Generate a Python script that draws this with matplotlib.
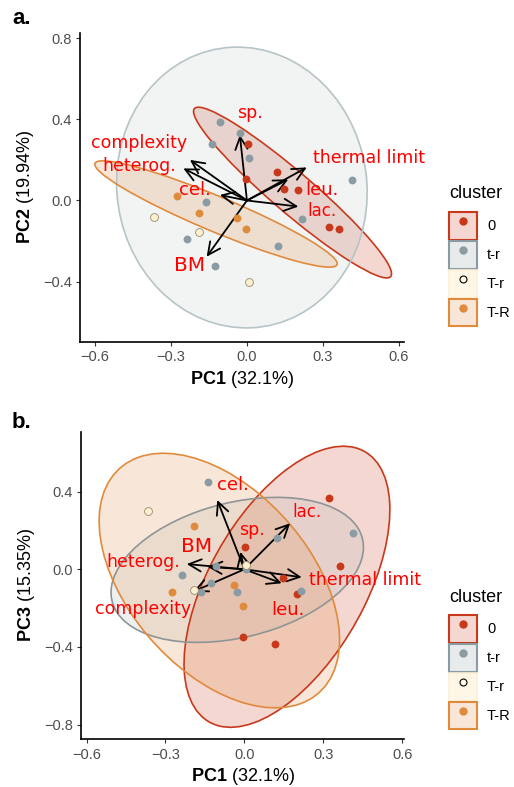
import numpy as np
import matplotlib
matplotlib.use("Agg")
import matplotlib.pyplot as plt
from matplotlib.patches import Ellipse, Patch
from matplotlib.lines import Line2D
from matplotlib.legend_handler import HandlerTuple

plt.rcParams['font.family'] = ['Liberation Sans', 'DejaVu Sans']
plt.rcParams['mathtext.fontset'] = 'custom'
plt.rcParams['mathtext.rm'] = 'Liberation Sans'
plt.rcParams['mathtext.bf'] = 'Liberation Sans:bold'

# individuals (scores)
cluster = ['0'] * 7 + ['t-r'] * 10 + ['T-r'] * 3 + ['T-R'] * 4
pc1 = [0.003, -0.004, 0.118, 0.146, 0.200, 0.322, 0.362,
       -0.107, -0.138, -0.029, 0.008, 0.217, 0.413, -0.163, -0.237, 0.124, -0.128,
       -0.368, -0.191, 0.007,
       -0.275, -0.191, -0.041, -0.005]
pc2 = [0.278, 0.107, 0.140, 0.057, 0.052, -0.129, -0.142,
       0.387, 0.278, 0.334, 0.209, -0.093, 0.101, -0.006, -0.188, -0.224, -0.324,
       -0.081, -0.154, -0.403,
       0.024, -0.062, -0.088, -0.142]
pc3 = [0.113, -0.349, -0.383, -0.045, -0.129, 0.366, 0.019,
       0.019, 0.450, -0.117, 0.000, -0.114, 0.187, -0.117, -0.031, 0.161, -0.071,
       0.300, -0.108, 0.022,
       -0.117, 0.225, -0.083, -0.189]

# variables (loadings arrows)
variables = ['sp.', 'thermal limit', 'leu.', 'lac.', 'complexity', 'heterog.', 'cel.', 'BM']
load_a_x = [-0.028, 0.236, 0.163, 0.203, -0.225, -0.251, -0.107, -0.159]
load_a_y = [0.323, 0.163, 0.104, -0.030, 0.200, 0.158, 0.027, -0.277]
load_b_x = [-0.015, 0.218, 0.142, 0.174, -0.194, -0.219, -0.103, -0.140]
load_b_y = [0.090, -0.041, -0.072, 0.237, -0.115, 0.027, 0.357, 0.013]
lab_a_x = [0.012, 0.481, 0.295, 0.295, -0.425, -0.425, -0.205, -0.225]
lab_a_y = [0.431, 0.211, 0.052, -0.052, 0.285, 0.171, 0.052, -0.321]
lab_b_x = [0.028, 0.459, 0.167, 0.237, -0.384, -0.384, -0.042, -0.181]
lab_b_y = [0.203, -0.055, -0.210, 0.297, -0.205, 0.039, 0.435, 0.120]
lab_size = [12.5, 12.5, 13, 12, 12.5, 12.5, 13, 14.5]

# confidence ellipses (center x, center y, semi axis 1, semi axis 2, angle deg)
ell_groups = ['0', 't-r', 'T-R']
ell_a_cx = [0.180, -0.020, -0.122]
ell_a_cy = [0.039, 0.064, -0.0665]
ell_a_r1 = [0.567, 0.494, 0.539]
ell_a_r2 = [0.090, 0.692, 0.083]
ell_a_ang = [-47.2, 3.0, -27.8]
ell_b_cx = [0.162, -0.027, -0.095]
ell_b_cy = [-0.090, -0.003, -0.058]
ell_b_r1 = [0.762, 0.507, 0.7055]
ell_b_r2 = [0.311, 0.336, 0.376]
ell_b_ang = [70.05, 25.5, -64.2]

groups = ['0', 't-r', 'T-r', 'T-R']
pt_color = {'0': '#C8391B', 't-r': '#8A9BA3', 'T-r': '#FDF0D0', 'T-R': '#E08A3C'}
pt_edge = {'0': '#C8391B', 't-r': '#8A9BA3', 'T-r': '#9A8A6A', 'T-R': '#E08A3C'}
fill_color = {'0': '#C8391B', 't-r': '#A9B7BB', 'T-r': '#FCEFD0', 'T-R': '#E08A3C'}

W, H = 514, 787
fig = plt.figure(figsize=(W / 100, H / 100), dpi=100)


def style_axis(ax):
    for s in ['top', 'right']:
        ax.spines[s].set_visible(False)
    for s in ['left', 'bottom']:
        ax.spines[s].set_linewidth(1.2)
        ax.spines[s].set_color('black')
    ax.tick_params(length=3, width=0.8, color='#333333', labelcolor='#4D4D4D',
                   labelsize=10.5, pad=3)


def fmt(v):
    return ("%.1f" % v).replace('-', '\u2212')


def draw_panel(ax, ys, lx, ly, tx, ty, ecx, ecy, er1, er2, eang, grey_edge, grey_alpha):
    for i, g in enumerate(ell_groups):
        a = grey_alpha if g == 't-r' else 0.2
        edge = grey_edge if g == 't-r' else pt_color[g]
        ax.add_patch(Ellipse((ecx[i], ecy[i]), 2 * er1[i], 2 * er2[i], angle=eang[i],
                             facecolor=fill_color[g], alpha=a, edgecolor='none', zorder=1))
        ax.add_patch(Ellipse((ecx[i], ecy[i]), 2 * er1[i], 2 * er2[i], angle=eang[i],
                             facecolor='none', edgecolor=edge, lw=1.2, zorder=1.5))
    for i in range(len(variables)):
        ax.annotate('', xy=(lx[i], ly[i]), xytext=(0, 0),
                    arrowprops=dict(arrowstyle='->,head_length=0.45,head_width=0.22',
                                    color='black', lw=1.3, mutation_scale=20,
                                    shrinkA=0, shrinkB=0), zorder=2)
    x = np.array(pc1)
    y = np.array(ys)
    cl = np.array(cluster)
    for g in groups:
        m = cl == g
        lw = 0.6 if g == 'T-r' else 0
        ax.scatter(x[m], y[m], s=32, color=pt_color[g], edgecolors=pt_edge[g],
                   linewidths=lw, zorder=3)
    for i, v in enumerate(variables):
        ax.text(tx[i], ty[i], v, color='#FF0000', fontsize=lab_size[i],
                family='DejaVu Sans', ha='center', va='center', zorder=4)
    style_axis(ax)


def add_legend(title_px, top_px):
    fig.text(449 / W, 1 - title_px / H, 'cluster', fontsize=13, va='center', ha='left')
    handles = []
    for g in groups:
        if g == 'T-r':
            box = Patch(facecolor='#FEF7E6', edgecolor='#FCEFD6', lw=1.2)
            dot = Line2D([], [], ls='none', marker='o', ms=5, mfc='#FFF8E8', mec='black', mew=0.8)
        else:
            box = Patch(facecolor=matplotlib.colors.to_rgba(pt_color[g], 0.2),
                        edgecolor=pt_color[g], lw=1.5)
            dot = Line2D([], [], ls='none', marker='o', ms=5, mfc=pt_color[g], mec=pt_color[g])
        handles.append((box, dot))
    leg = fig.legend(handles, groups, handler_map={tuple: HandlerTuple(ndivide=1, pad=0)},
                     loc='upper left', bbox_to_anchor=(449 / W, 1 - top_px / H),
                     frameon=False, fontsize=10.5,
                     handlelength=1.9, handleheight=2.55, labelspacing=0.08,
                     handletextpad=0.7, borderpad=0, borderaxespad=0)
    return leg


# panel a
ax1 = fig.add_axes([80 / W, 1 - 342 / H, 324 / W, 309 / H])
draw_panel(ax1, pc2, load_a_x, load_a_y, lab_a_x, lab_a_y,
           ell_a_cx, ell_a_cy, ell_a_r1, ell_a_r2, ell_a_ang, '#B7C4C7', 0.15)
ax1.set_xlim(-0.659, 0.620)
ax1.set_ylim(-0.697, 0.825)
xt = [-0.6, -0.3, 0.0, 0.3, 0.6]
ax1.set_xticks(xt)
ax1.set_xticklabels([fmt(v) for v in xt])
yt = [-0.4, 0.0, 0.4, 0.8]
ax1.set_yticks(yt)
ax1.set_yticklabels([fmt(v) for v in yt])
ax1.set_xlabel(r'$\mathbf{PC1}$ (32.1%)', fontsize=13, labelpad=3)
ax1.set_ylabel(r'$\mathbf{PC2}$ (19.94%)', fontsize=13, labelpad=5)

# panel b
ax2 = fig.add_axes([81 / W, 1 - 739.3 / H, 323 / W, 307.6 / H])
draw_panel(ax2, pc3, load_b_x, load_b_y, lab_b_x, lab_b_y,
           ell_b_cx, ell_b_cy, ell_b_r1, ell_b_r2, ell_b_ang, '#8E9597', 0.2)
ax2.set_xlim(-0.621, 0.607)
ax2.set_ylim(-0.876, 0.709)
ax2.set_xticks(xt)
ax2.set_xticklabels([fmt(v) for v in xt])
yt2 = [-0.8, -0.4, 0.0, 0.4]
ax2.set_yticks(yt2)
ax2.set_yticklabels([fmt(v) for v in yt2])
ax2.set_xlabel(r'$\mathbf{PC1}$ (32.1%)', fontsize=13, labelpad=3)
ax2.set_ylabel(r'$\mathbf{PC3}$ (15.35%)', fontsize=13, labelpad=5)

add_legend(194, 212)
add_legend(597, 615)

fig.text(12 / W, 1 - 24 / H, 'a.', fontsize=16, weight='bold', va='baseline')
fig.text(12 / W, 1 - 428 / H, 'b.', fontsize=16, weight='bold', va='baseline')

fig.savefig('out.png', dpi=100)
